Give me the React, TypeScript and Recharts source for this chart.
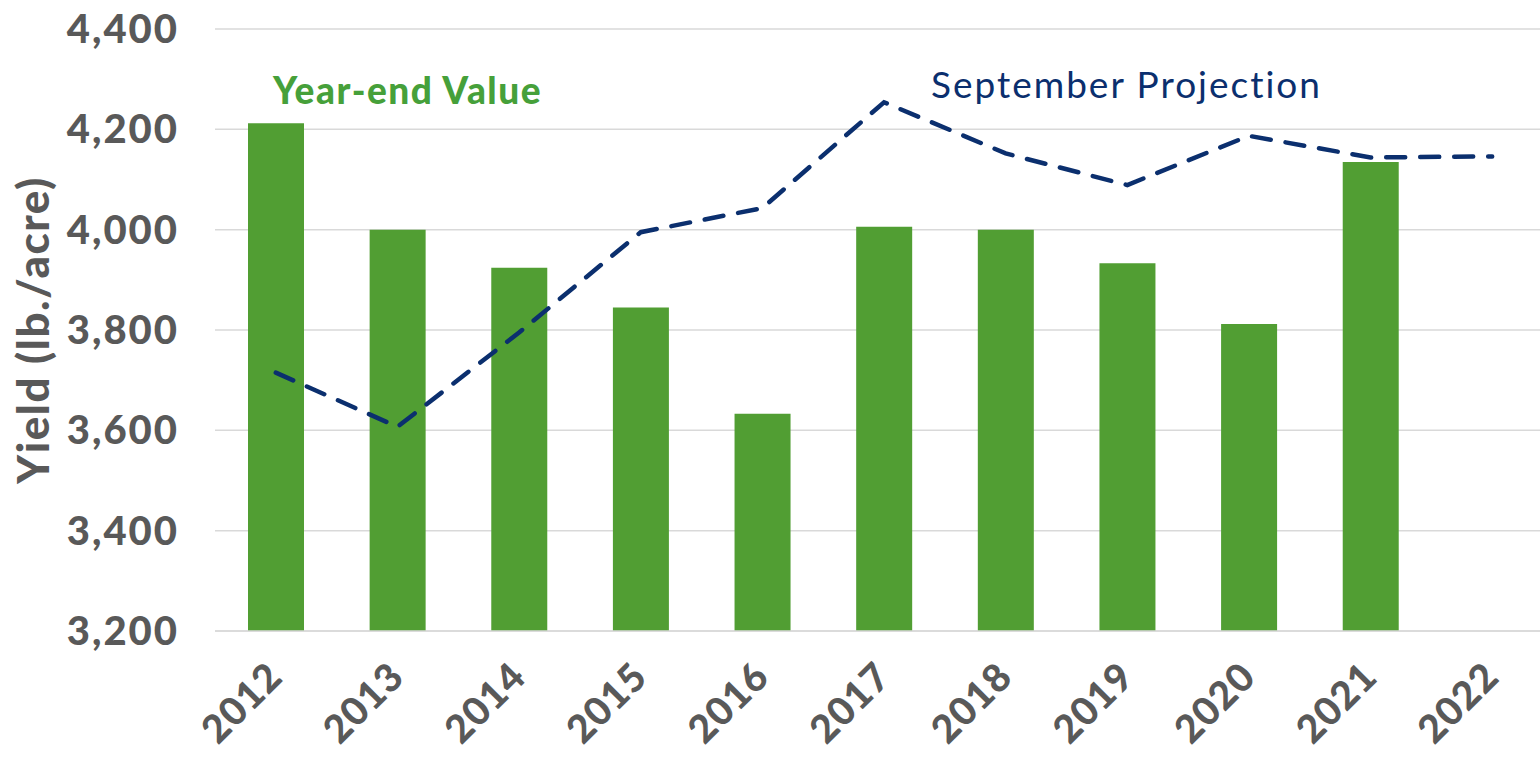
import React from "react";
import { ComposedChart, Bar, Line, XAxis, YAxis, CartesianGrid } from "recharts";

const years = ["2012", "2013", "2014", "2015", "2016", "2017", "2018", "2019", "2020", "2021", "2022"];
const yearEndValue: (number | null)[] = [4212, 4000, 3924, 3845, 3633, 4006, 4000, 3933, 3812, 4135, null];
const septemberProjection = [3715, 3607, 3795, 3995, 4043, 4254, 4152, 4089, 4187, 4144, 4146];
const yTicks = [3200, 3400, 3600, 3800, 4000, 4200, 4400];

const data = years.map((y, i) => ({ year: y, actual: yearEndValue[i], proj: septemberProjection[i] }));

const GRAY = "#595959";
const GREEN = "#519e33";
const NAVY = "#0b2f6e";
const FONT = "Lato, 'Open Sans', sans-serif";

const XTick = (props: any) => {
  const { x, y, payload } = props;
  const ax = x + 9;
  const ay = y + 40;
  return (
    <text
      x={ax}
      y={ay}
      transform={`rotate(-45, ${ax}, ${ay})`}
      textAnchor="end"
      fill={GRAY}
      fontSize={39}
      fontWeight={900}
      letterSpacing={1}
      fontFamily={FONT}
    >
      {payload.value}
    </text>
  );
};

const YTick = (props: any) => {
  const { x, y, payload } = props;
  return (
    <text
      x={x}
      y={y}
      dy={14}
      textAnchor="end"
      fill={GRAY}
      fontSize={40}
      fontWeight={900}
      letterSpacing={2}
      fontFamily={FONT}
    >
      {Number(payload.value).toLocaleString("en-US")}
    </text>
  );
};

export default function App() {
  return (
    <div style={{ position: "absolute", left: 0, top: 0, width: 1540, height: 757, overflow: "hidden", background: "#fff" }}>
      <ComposedChart
        width={1560}
        height={757}
        data={data}
        margin={{ top: 29, right: 7, left: 0, bottom: 0 }}
        barCategoryGap="0%"
      >
        <CartesianGrid vertical={false} stroke="#d9d9d9" strokeWidth={1.5} />
        <XAxis
          dataKey="year"
          height={126}
          axisLine={{ stroke: "#d9d9d9", strokeWidth: 1.5 }}
          tickLine={false}
          tick={<XTick />}
          interval={0}
        />
        <YAxis
          width={215}
          domain={[3200, 4400]}
          ticks={yTicks}
          axisLine={false}
          tickLine={false}
          tickMargin={30}
          tick={<YTick />}
          label={{
            value: "Yield (lb./acre)",
            angle: -90,
            position: "insideLeft",
            dx: 28,
            dy: 0,
            style: { fill: GRAY, fontSize: 44, fontWeight: 900, letterSpacing: 1.5, fontFamily: FONT, textAnchor: "middle" },
          }}
        />
        <Bar dataKey="actual" fill={GREEN} barSize={56} isAnimationActive={false} />
        <Line
          type="linear"
          dataKey="proj"
          stroke={NAVY}
          strokeWidth={4.5}
          strokeDasharray="19 15"
          strokeLinecap="round"
          dot={false}
          activeDot={false}
          isAnimationActive={false}
        />
      </ComposedChart>
      <svg width={1540} height={757} style={{ position: "absolute", left: 0, top: 0, pointerEvents: "none" }}>
        <text x={273} y={104} fill="#46a03a" fontSize={37} fontWeight={900} letterSpacing={1.5} fontFamily={FONT}>
          Year-end Value
        </text>
        <text x={931} y={98} fill={NAVY} fontSize={37} fontWeight={400} letterSpacing={2} fontFamily={FONT}>
          September Projection
        </text>
      </svg>
    </div>
  );
}
